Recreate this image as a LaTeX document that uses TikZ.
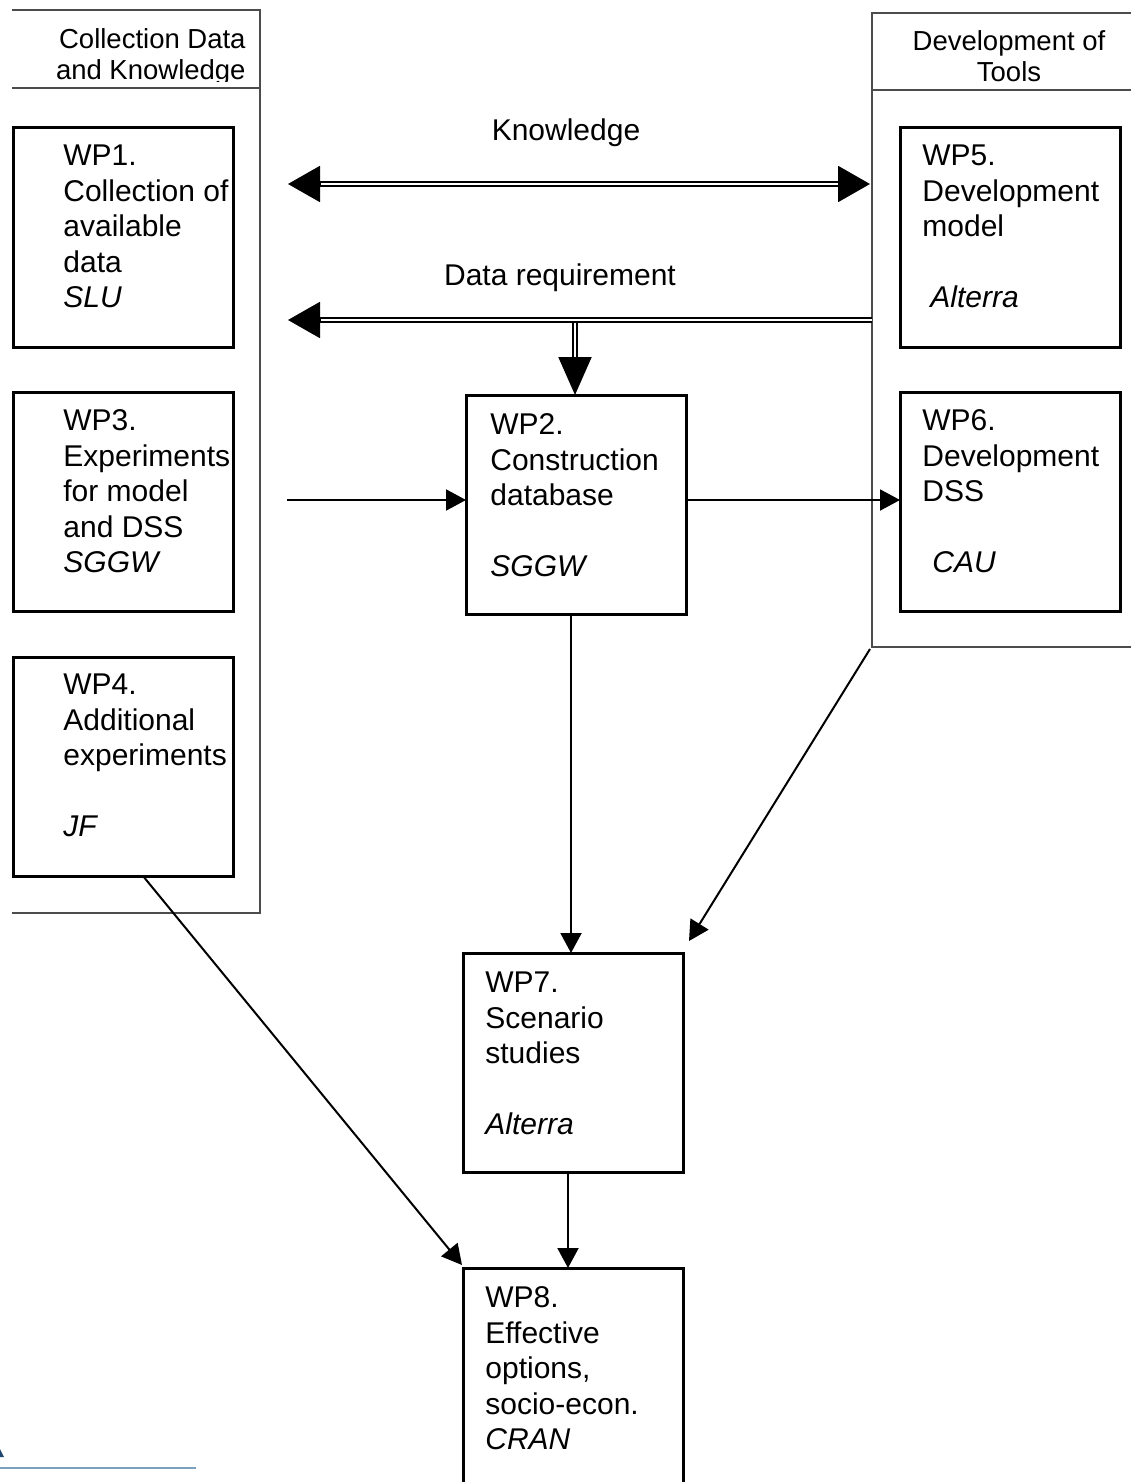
\documentclass[tikz,border=0pt]{standalone}
\usepackage{fontspec}
\setmainfont{Liberation Sans}
\usetikzlibrary{arrows.meta,calc}
\begin{document}
\begin{tikzpicture}[x=0.5pt,y=-0.5pt,
  wpbox/.style={draw, line width=1.5pt, minimum width=110pt, minimum height=109.5pt, anchor=north west, outer sep=0pt, inner sep=0pt},
  wptext/.style={anchor=north west, align=left, inner sep=0pt, font=\fontsize{15}{17.75}\selectfont},
  panel/.style={draw=black!70, line width=0.6pt},
  dbl/.style={draw, double, double distance=1pt, line width=1pt},
  bighead/.style={line width=1pt, -{Triangle[length=16pt,width=18pt]}},
  vhead/.style={line width=1pt, -{Triangle[length=19pt,width=16.5pt]}},
  arr/.style={line width=1pt, -{Triangle[length=10pt,width=10.5pt]}},
  lbl/.style={font=\fontsize{15}{17.75}\selectfont, inner sep=0pt},
  hdr/.style={font=\fontsize{13.75}{15.5}\selectfont, inner sep=0pt}
]
\clip (0,0) rectangle (1131,1482);

% panels
\draw[panel] (12,10) -- (260,10) -- (260,913) -- (12,913);
\draw[panel] (12,88) -- (260,88);
\draw[panel] (1131,13) -- (872,13) -- (872,647) -- (1131,647);
\draw[panel] (872,90) -- (1131,90);

\begin{scope}
\clip (12,10) rectangle (260,82);
\node[hdr, anchor=north east, align=right] (hl) at (246,28.5) {Collection Data\\and Knowledge};
\end{scope}
\node[hdr, anchor=north, align=center] (hr) at (1009,30.3) {Development of\\Tools};

% boxes
\node[wpbox] (wp1) at (13,128) {};
\node[wpbox] (wp3) at (13,392) {};
\node[wpbox] (wp4) at (13,657) {};
\node[wpbox] (wp2) at (466,395) {};
\node[wpbox] (wp5) at (900,128) {};
\node[wpbox] (wp6) at (900,392) {};
\node[wpbox] (wp7) at (463,953) {};
\node[wpbox] (wp8) at (463,1268) {};

% texts
\node[wptext] (t1) at (63,144.5) {WP1.\\Collection of\\available\\data\\\textit{SLU}};
\node[wptext] (t3) at (63,409.5) {WP3.\\Experiments\\for model\\and DSS\\\textit{SGGW}};
\node[wptext] (t4) at (63,673.5) {WP4.\\Additional\\experiments\\[17.75pt]\textit{JF}};
\node[wptext] (t2) at (490,413.5) {WP2.\\Construction\\database\\[17.75pt]\textit{SGGW}};
\node[wptext] (t5) at (922,144.5) {WP5.\\Development\\model\\[17.75pt]\hspace*{4pt}\textit{Alterra}};
\node[wptext] (t6) at (922,409.5) {WP6.\\Development\\DSS\\[17.75pt]\hspace*{5pt}\textit{CAU}};
\node[wptext] (t7) at (485,971.5) {WP7.\\Scenario\\studies\\[17.75pt]\textit{Alterra}};
\node[wptext] (t8) at (485,1286.5) {WP8.\\Effective\\options,\\socio-econ.\\\textit{CRAN}};

% labels
\node[lbl] (klab) at (566,133) {Knowledge};
\node[lbl] (dlab) at (560,278) {Data requirement};

% knowledge double arrow
\coordinate (kL) at (288,184);
\coordinate (kR) at (870,184);
\coordinate (kLb) at (320,184);
\coordinate (kRb) at (838,184);
\draw[dbl] ($(kLb)+(-4,0)$) -- ($(kRb)+(4,0)$);
\draw[bighead] (kLb) -- (kL);
\draw[bighead] (kRb) -- (kR);

% data requirement
\coordinate (dR) at (872,320);
\coordinate (dL) at (288,320);
\coordinate (dLb) at (320,320);
\draw[dbl] (dR) -- ($(dLb)+(-4,0)$);
\draw[bighead] (dLb) -- (dL);
\coordinate (dv) at (575,323);
\coordinate (dvb) at (575,357);
\draw[dbl] (dv) -- ($(dvb)+(0,4)$);
\draw[vhead] (dvb) -- (dvb |- wp2.north);

% single arrows
\coordinate (a3) at (287,500);
\draw[arr] (a3) -- (a3 -| wp2.west);
\draw[arr] (wp2.east |- a3) -- (wp6.west |- a3);
\draw[arr] (wp2.south -| 571,0) -- (571,953);
\coordinate (rc) at (870,649);
\coordinate (d7) at (689,941);
\draw[arr] (rc) -- (d7);
\draw[arr] ($(wp4.south west)+(130,0)$) -- ($(wp8.north west)+(-1,-3)$);
\draw[arr] ($(wp7.south)+(-5,0)$) -- ($(wp8.north)+(-5,0)$);

% logo fragment at bottom left
\draw[line width=1.4pt, color={rgb,255:red,122;green,160;blue,190}] (0,1468) -- (196,1468);
\fill[color={rgb,255:red,30;green,70;blue,110}] (0,1449) -- (4,1457) -- (0,1457) -- cycle;
\end{tikzpicture}
\end{document}
